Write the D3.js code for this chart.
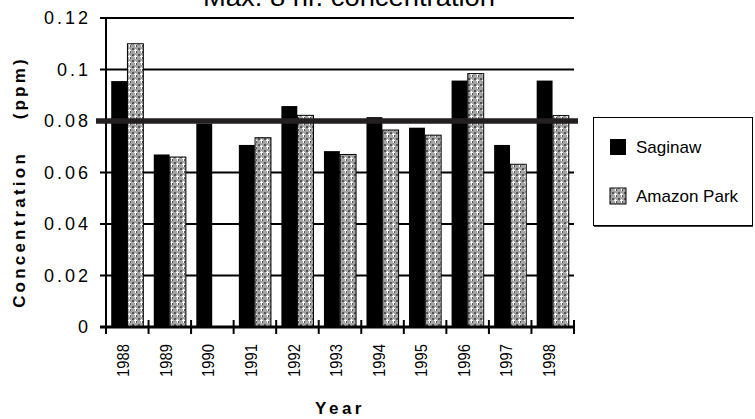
<!DOCTYPE html>
<html><head><meta charset="utf-8">
<script src="https://cdn.jsdelivr.net/npm/d3@7/dist/d3.min.js"></script>
<style>
body{margin:0;background:#fff;}
svg{display:block;font-family:"Liberation Sans",Arial,sans-serif;}
</style></head>
<body>
<svg id="chart" width="755" height="419"></svg>
<script>
const years = ["1988","1989","1990","1991","1992","1993","1994","1995","1996","1997","1998"];
const seriesNames = ["Saginaw","Amazon Park"];
const saginaw = [0.0955,0.067,0.079,0.0707,0.0858,0.0683,0.0815,0.0774,0.0957,0.0707,0.0957];
const amazonPark = [0.110,0.066,null,0.0735,0.0822,0.0670,0.0765,0.0745,0.0984,0.0632,0.0821];
const yTicks = [0,0.02,0.04,0.06,0.08,0.1,0.12];
const yTickLabels = ["0","0.02","0.04","0.06","0.08","0.1","0.12"];
const standard = 0.08;
const titleText = "Max.  8 hr. concentration";
const yTitle = "Concentration    (ppm)";
const xTitle = "Year";

const svg = d3.select("#chart");
const L = 106, R = 574, T = 18, B = 327;

const defs = svg.append("defs");
const pat = defs.append("pattern").attr("id","hatch").attr("patternUnits","userSpaceOnUse")
  .attr("width",6).attr("height",6);
pat.append("rect").attr("width",6).attr("height",6).attr("fill","#a4a4a4");
pat.append("rect").attr("x",0).attr("y",0).attr("width",2).attr("height",2).attr("fill","#555");
pat.append("rect").attr("x",3).attr("y",3).attr("width",2).attr("height",2).attr("fill","#555");
pat.append("rect").attr("x",3).attr("y",1).attr("width",1).attr("height",4).attr("fill","#fff");
pat.append("rect").attr("x",2).attr("y",2).attr("width",3).attr("height",1).attr("fill","#fff");

const x0 = d3.scaleBand().domain(years).range([L,R]).padding(0);
const bw = x0.bandwidth();
const gap = bw*0.23;
const x1 = d3.scaleBand().domain(seriesNames).range([gap/2, bw-gap/2]).padding(0.02);
const y = d3.scaleLinear().domain([0,0.12]).range([B,T]);

// gridlines
svg.append("g").selectAll("line").data(yTicks.slice(1)).join("line")
  .attr("x1",L-6).attr("x2",R).attr("y1",d=>y(d)).attr("y2",d=>y(d))
  .attr("stroke","#000").attr("stroke-width",2);

// bars
const data = years.map((yr,i)=>({yr, vals:[saginaw[i], amazonPark[i]]}));
const gBars = svg.append("g");
data.forEach(d=>{
  d.vals.forEach((v,j)=>{
    if(v==null) return;
    const r = gBars.append("rect")
      .attr("x", x0(d.yr)+x1(seriesNames[j]))
      .attr("width", x1.bandwidth())
      .attr("y", y(v)).attr("height", B - y(v));
    if(j===0) r.attr("fill","#000");
    else r.attr("fill","url(#hatch)").attr("stroke","#000").attr("stroke-width",1);
  });
});

// axes
svg.append("line").attr("x1",L).attr("x2",L).attr("y1",T-1).attr("y2",B+1).attr("stroke","#000").attr("stroke-width",2);
svg.append("line").attr("x1",L-6).attr("x2",R+1).attr("y1",B).attr("y2",B).attr("stroke","#000").attr("stroke-width",3);
// x ticks at category boundaries
const bounds = years.map(yr=>x0(yr)).concat([R]);
svg.append("g").selectAll("line").data(bounds).join("line")
  .attr("x1",d=>d).attr("x2",d=>d).attr("y1",B-7).attr("y2",B+7)
  .attr("stroke","#000").attr("stroke-width",2);

// standard line
svg.append("line").attr("x1",96).attr("x2",578).attr("y1",y(standard)).attr("y2",y(standard))
  .attr("stroke","#231f20").attr("stroke-width",5.5);

// y tick labels
svg.append("g").selectAll("text").data(yTicks).join("text")
  .attr("x",91).attr("y",d=>y(d)).attr("dy","0.36em")
  .attr("text-anchor","end").attr("font-size",18).attr("letter-spacing",3)
  .text((d,i)=>yTickLabels[i]);

// x tick labels
svg.append("g").selectAll("text").data(years).join("text")
  .attr("transform",d=>`translate(${x0(d)+bw/2-4},344) rotate(-90)`)
  .attr("text-anchor","end").attr("dy","0.36em").attr("font-size",17)
  .attr("textLength",33).attr("lengthAdjust","spacingAndGlyphs")
  .text(d=>d);

// titles
svg.append("text").attr("x",203).attr("y",6).attr("font-size",26).attr("textLength",292)
  .attr("lengthAdjust","spacingAndGlyphs").text(titleText);
svg.append("text").attr("x",340).attr("y",414).attr("text-anchor","middle")
  .attr("font-size",17).attr("font-weight","bold").attr("letter-spacing",3.5).text(xTitle);
svg.append("text").attr("transform","translate(25,182) rotate(-90)").attr("text-anchor","middle")
  .attr("font-size",17).attr("font-weight","bold").attr("letter-spacing",3.2)
  .style("white-space","pre").text(yTitle);

// legend
const lg = svg.append("g");
lg.append("rect").attr("x",593.5).attr("y",117.5).attr("width",159).attr("height",108)
  .attr("fill","#fff").attr("stroke","#000").attr("stroke-width",1);
lg.append("line").attr("x1",594).attr("x2",753).attr("y1",226).attr("y2",226).attr("stroke","#000").attr("stroke-width",1.5);
seriesNames.forEach((n,i)=>{
  const cy = 147 + i*49;
  const r = lg.append("rect").attr("x",610).attr("y",cy-8).attr("width",16).attr("height",16);
  if(i===0) r.attr("fill","#000");
  else r.attr("fill","url(#hatch)").attr("stroke","#000").attr("stroke-width",1);
  lg.append("text").attr("x",636).attr("y",cy).attr("dy","0.36em").attr("font-size",17).text(n);
});
</script>
</body></html>
